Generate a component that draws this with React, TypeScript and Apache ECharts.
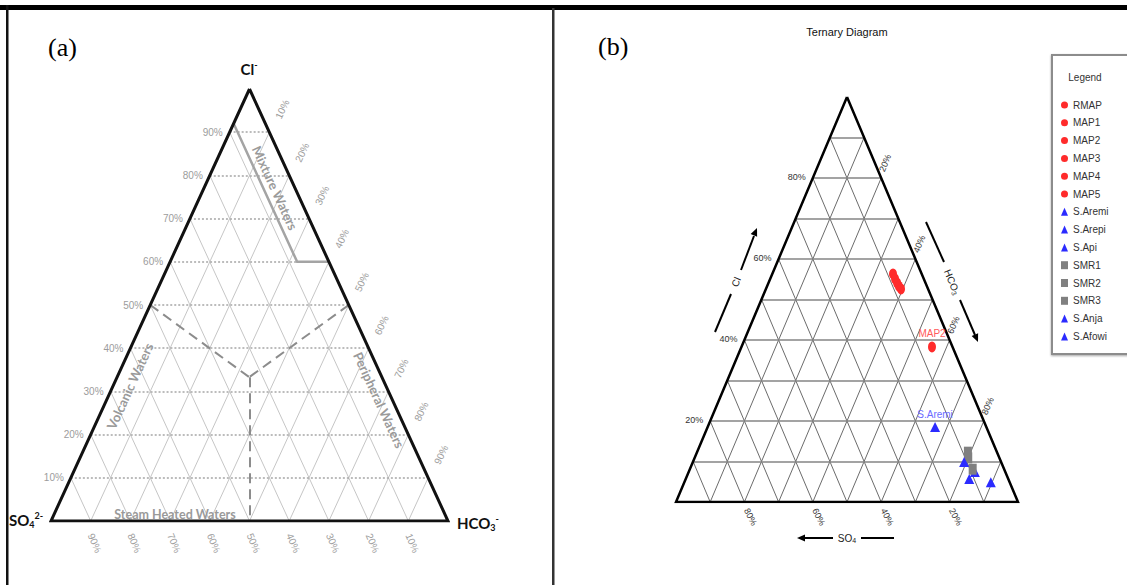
import React, { useEffect, useRef } from 'react';
import * as echarts from 'echarts';

// ---------- data ----------
const A_TICKS = [10, 20, 30, 40, 50, 60, 70, 80, 90];
const B_TICKS = [20, 40, 60, 80];

const SAMPLES = ['RMAP', 'MAP1', 'MAP2', 'MAP3', 'MAP4', 'MAP5', 'S.Aremi', 'S.Arepi', 'S.Api', 'SMR1', 'SMR2', 'SMR3', 'S.Anja', 'S.Afowi'];
const CL = [56.3, 55.1, 38.3, 54.1, 53.3, 52.6, 18.5, 7.4, 5.7, 12.3, 10.9, 8.1, 9.9, 4.9];
const HCO3 = [35.3, 36.5, 55.7, 37.6, 38.5, 39.5, 66.5, 83.7, 82.9, 79.2, 80.0, 82.7, 79.3, 89.6];
const SO4 = [8.4, 8.4, 6.0, 8.3, 8.2, 7.9, 15.0, 8.9, 11.4, 8.5, 9.1, 9.2, 10.8, 5.5];
const GROUP = ['map', 'map', 'map', 'map', 'map', 'map', 'spring', 'spring', 'spring', 'smr', 'smr', 'smr', 'spring', 'spring'];
const LABELLED = ['MAP2', 'S.Aremi'];

// zone boundaries of panel (a), as [Cl, HCO3, SO4] %
const CORNERS = [[100, 0, 0], [0, 0, 100], [0, 100, 0], [100, 0, 0]];
const MIXTURE_LINE = [[92, 0, 8], [60, 32, 8], [60, 40, 0]];
const ZONE_CENTRE = [33.3, 33.3, 33.4];
const VOLCANIC_LINE = [[50, 0, 50], ZONE_CENTRE];
const PERIPHERAL_LINE = [[50, 50, 0], ZONE_CENTRE];
const STEAM_LINE = [ZONE_CENTRE, [0, 50, 50]];

// ---------- helpers ----------
function tern(p: number[]): number[] {
  const t = p[0] + p[1] + p[2];
  const c = p[0] / t;
  const h = p[1] / t;
  return [h + c / 2, c];
}

function gridLines(ticks: number[]) {
  const hor = ticks.map((t) => ({ coords: [tern([t, 0, 100 - t]), tern([t, 100 - t, 0])] }));
  const diag: any[] = [];
  ticks.forEach((t) => {
    diag.push({ coords: [tern([0, t, 100 - t]), tern([100 - t, t, 0])] });
    diag.push({ coords: [tern([0, 100 - t, t]), tern([100 - t, 0, t])] });
  });
  return { hor, diag };
}

function linesSeries(g: number, data: any[], lineStyle: any, z: number, polyline = false) {
  return {
    type: 'lines',
    coordinateSystem: 'cartesian2d',
    xAxisIndex: g,
    yAxisIndex: g,
    polyline,
    silent: true,
    z,
    lineStyle: { opacity: 1, ...lineStyle },
    data,
  };
}

const ELLIPSE = 'path://M0,50A50,50,0,1,1,100,50A50,50,0,1,1,0,50Z';
const STYLE: Record<string, any> = {
  map: { symbol: ELLIPSE, size: [8, 11], color: '#ff2b2b', label: '#ff5a5a' },
  spring: { symbol: 'triangle', size: [10, 10], color: '#2b2bff', label: '#6b6bff' },
  smr: { symbol: 'rect', size: [8, 11], color: '#808080', label: '#808080' },
};

function txt(text: string, x: number, y: number, font: string, fill: string, align = 'center', vAlign = 'middle', rotation = 0, rich?: any) {
  const style: any = { text, font, fill, align, verticalAlign: vAlign, textAlign: align, textVerticalAlign: vAlign };
  if (rich) style.rich = rich;
  return { type: 'text', x, y, rotation, silent: true, z: 10, style };
}

function line(x1: number, y1: number, x2: number, y2: number, stroke = '#000', lineWidth = 2) {
  return { type: 'line', silent: true, z: 10, shape: { x1, y1, x2, y2 }, style: { stroke, lineWidth } };
}

function arrowHead(tip: number[], dir: number[], len = 8, half = 3.5) {
  const bx = tip[0] - dir[0] * len;
  const by = tip[1] - dir[1] * len;
  return {
    type: 'polygon', silent: true, z: 10,
    shape: { points: [[tip[0], tip[1]], [bx - dir[1] * half, by + dir[0] * half], [bx + dir[1] * half, by - dir[0] * half]] },
    style: { fill: '#000' },
  };
}

export default function App() {
  const ref = useRef<HTMLDivElement>(null);

  useEffect(() => {
    const chart = echarts.init(ref.current!, null, { renderer: 'svg' });
    const ga = gridLines(A_TICKS);

    const series: any[] = [
      // panel (a)
      linesSeries(0, ga.diag, { color: '#c6c6c6', width: 1 }, 1),
      linesSeries(0, ga.hor, { color: '#a6a6a6', width: 1.5, type: [2, 2] }, 1),
      linesSeries(0, [{ coords: MIXTURE_LINE.map(tern) }], { color: '#a4a4a4', width: 2.5 }, 2, true),
      linesSeries(0, [VOLCANIC_LINE, PERIPHERAL_LINE, STEAM_LINE].map((l) => ({ coords: l.map(tern) })), { color: '#8c8c8c', width: 2, type: [10, 6] }, 2),
      linesSeries(0, [{ coords: CORNERS.map(tern) }], { color: '#111', width: 3, join: 'miter' }, 3, true),
      // panel (b)
      linesSeries(1, ga.diag, { color: '#5a5a5a', width: 0.9 }, 1),
      linesSeries(1, ga.hor, { color: '#858585', width: 1.6 }, 1),
      linesSeries(1, [{ coords: CORNERS.map(tern) }], { color: '#000', width: 2.5, join: 'miter' }, 3, true),
    ];

    SAMPLES.forEach((name, i) => {
      const st = STYLE[GROUP[i]];
      series.push({
        type: 'scatter',
        name,
        xAxisIndex: 1,
        yAxisIndex: 1,
        z: 5,
        symbol: st.symbol,
        symbolSize: st.size,
        itemStyle: { color: st.color, opacity: 1 },
        emphasis: { disabled: true },
        data: [tern([CL[i], HCO3[i], SO4[i]])],
        label: LABELLED.includes(name)
          ? { show: true, position: 'top', distance: 3, formatter: name, color: st.label, fontSize: 10, fontFamily: 'Liberation Sans' }
          : { show: false },
      });
    });

    const axis = (g: number) => ({ gridIndex: g, type: 'value', min: 0, max: 1, show: false });

    chart.setOption({
      animation: false,
      textStyle: { fontFamily: 'Liberation Sans' },
      grid: [
        { left: 51, top: 89, width: 397, height: 432 },
        { left: 676, top: 97, width: 342, height: 405 },
      ],
      xAxis: [axis(0), axis(1)],
      yAxis: [axis(0), axis(1)],
      legend: {
        data: SAMPLES,
        orient: 'vertical',
        left: 1061,
        top: 99,
        padding: 0,
        itemWidth: 7,
        itemHeight: 8,
        itemGap: 5.8,
        selectedMode: false,
        textStyle: { fontSize: 10, color: '#333', fontFamily: 'Liberation Sans', lineHeight: 12 },
      },
      series,
    });

    const P = (g: number, p: number[]) => chart.convertToPixel({ gridIndex: g } as any, tern(p)) as number[];
    const el: any[] = [];

    // frame
    el.push({ type: 'rect', silent: true, z: 10, shape: { x: 0, y: 5, width: 1127, height: 5 }, style: { fill: '#000' } });
    el.push({ type: 'rect', silent: true, z: 10, shape: { x: 6, y: 5, width: 2.5, height: 580 }, style: { fill: '#111' } });
    el.push({ type: 'rect', silent: true, z: 10, shape: { x: 552, y: 8, width: 2.5, height: 577 }, style: { fill: '#333' } });

    // panel labels
    el.push(txt('(a)', 48, 47, '26px "Liberation Serif"', '#000', 'left'));
    el.push(txt('(b)', 598, 46, '26px "Liberation Serif"', '#000', 'left'));

    // ---- panel (a) texts ----
    const ionRich = {
      n: { fontSize: 15, fontWeight: 'bold', fontFamily: 'Lato', fill: '#111', lineHeight: 18 },
      s: { fontSize: 9, fontWeight: 'bold', fontFamily: 'Lato', fill: '#111', verticalAlign: 'bottom', lineHeight: 11 },
      p: { fontSize: 9, fontWeight: 'bold', fontFamily: 'Lato', fill: '#111', verticalAlign: 'top', lineHeight: 11 },
    };
    el.push(txt('{n|Cl}{p|-}', 249, 69, 'bold 15px Lato', '#111', 'center', 'middle', 0, ionRich));
    el.push(txt('{n|SO}{s|4}{p|2-}', 9, 520, 'bold 15px Lato', '#111', 'left', 'middle', 0, ionRich));
    el.push(txt('{n|HCO}{s|3}{p|-}', 457, 523, 'bold 15px Lato', '#111', 'left', 'middle', 0, ionRich));

    const zoneFont = 'bold 13px Lato';
    el.push(txt('Mixture Waters', 275, 188, zoneFont, '#9a9a9a', 'center', 'middle', -1.14));
    el.push(txt('Volcanic Waters', 130, 386, zoneFont, '#9a9a9a', 'center', 'middle', 1.14));
    el.push(txt('Peripheral Waters', 379, 400, zoneFont, '#9a9a9a', 'center', 'middle', -1.14));
    el.push(txt('Steam Heated Waters', 175, 514, 'bold 12.5px Lato', '#9a9a9a'));

    const aTick = '10px "Liberation Sans"';
    A_TICKS.forEach((t) => {
      const l = P(0, [t, 0, 100 - t]);
      el.push(txt(`${t}%`, l[0] - 7, l[1], aTick, '#9c9c9c', 'right'));
      const r = P(0, [100 - t, t, 0]);
      el.push(txt(`${t}%`, r[0] + 13, r[1] - 23, aTick, '#9c9c9c', 'center', 'middle', 1.13));
      const b = P(0, [0, 100 - t, t]);
      el.push(txt(`${t}%`, b[0] + 4, b[1] + 22, aTick, '#9c9c9c', 'center', 'middle', -1.17));
    });

    // ---- panel (b) texts ----
    el.push(txt('Ternary Diagram', 847, 32, '11px "Liberation Sans"', '#111'));
    const bTick = '9px "Liberation Sans"';
    B_TICKS.forEach((t) => {
      const l = P(1, [t, 0, 100 - t]);
      el.push(txt(`${t}%`, l[0] - 7, l[1] - 1, bTick, '#333', 'right'));
      const r = P(1, [100 - t, t, 0]);
      el.push(txt(`${t}%`, r[0] + 4, r[1] - 15, bTick, '#333', 'center', 'middle', 1.17));
      const b = P(1, [0, 100 - t, t]);
      el.push(txt(`${t}%`, b[0] + 6, b[1] + 15, bTick, '#333', 'center', 'middle', -1.1));
    });

    const axRich = {
      n: { fontSize: 10, fontFamily: 'Liberation Sans', fill: '#222', lineHeight: 12 },
      s: { fontSize: 7, fontFamily: 'Liberation Sans', fill: '#222', verticalAlign: 'bottom', lineHeight: 8 },
    };
    const up = [0.389, -0.921];
    const down = [0.389, 0.921];
    // Cl arrow
    el.push(line(715, 332, 731, 294));
    el.push(line(741, 270, 754, 236));
    el.push(arrowHead([757, 228], up));
    el.push(txt('{n|Cl}', 736, 282, '10px "Liberation Sans"', '#222', 'center', 'middle', 1.17, axRich));
    // HCO3 arrow
    el.push(line(926, 222, 944, 262));
    el.push(txt('{n|HCO}{s|3}', 952, 282, '10px "Liberation Sans"', '#222', 'center', 'middle', -1.17, axRich));
    el.push(line(960, 300, 975, 335));
    el.push(arrowHead([978, 342], down));
    // SO4 arrow
    el.push(line(804, 538, 833, 538));
    el.push(arrowHead([797, 538], [-1, 0]));
    el.push(txt('{n|SO}{s|4}', 847, 538, '10px "Liberation Sans"', '#222', 'center', 'middle', 0, axRich));
    el.push(line(861, 538, 894, 538));

    // legend frame
    el.push({
      type: 'rect', silent: true, z: 1,
      shape: { x: 1052, y: 55, width: 120, height: 299 },
      style: { fill: '#fff', stroke: '#8c8c8c', lineWidth: 2, shadowColor: 'rgba(0,0,0,0.35)', shadowBlur: 2, shadowOffsetY: 1 },
    });
    el.push(txt('Legend', 1085, 77, '10px "Liberation Sans"', '#333'));

    chart.setOption({ graphic: el });

    return () => chart.dispose();
  }, []);

  return <div ref={ref} style={{ position: 'absolute', left: 0, top: 0, width: 1127, height: 585, background: '#fff' }} />;
}
